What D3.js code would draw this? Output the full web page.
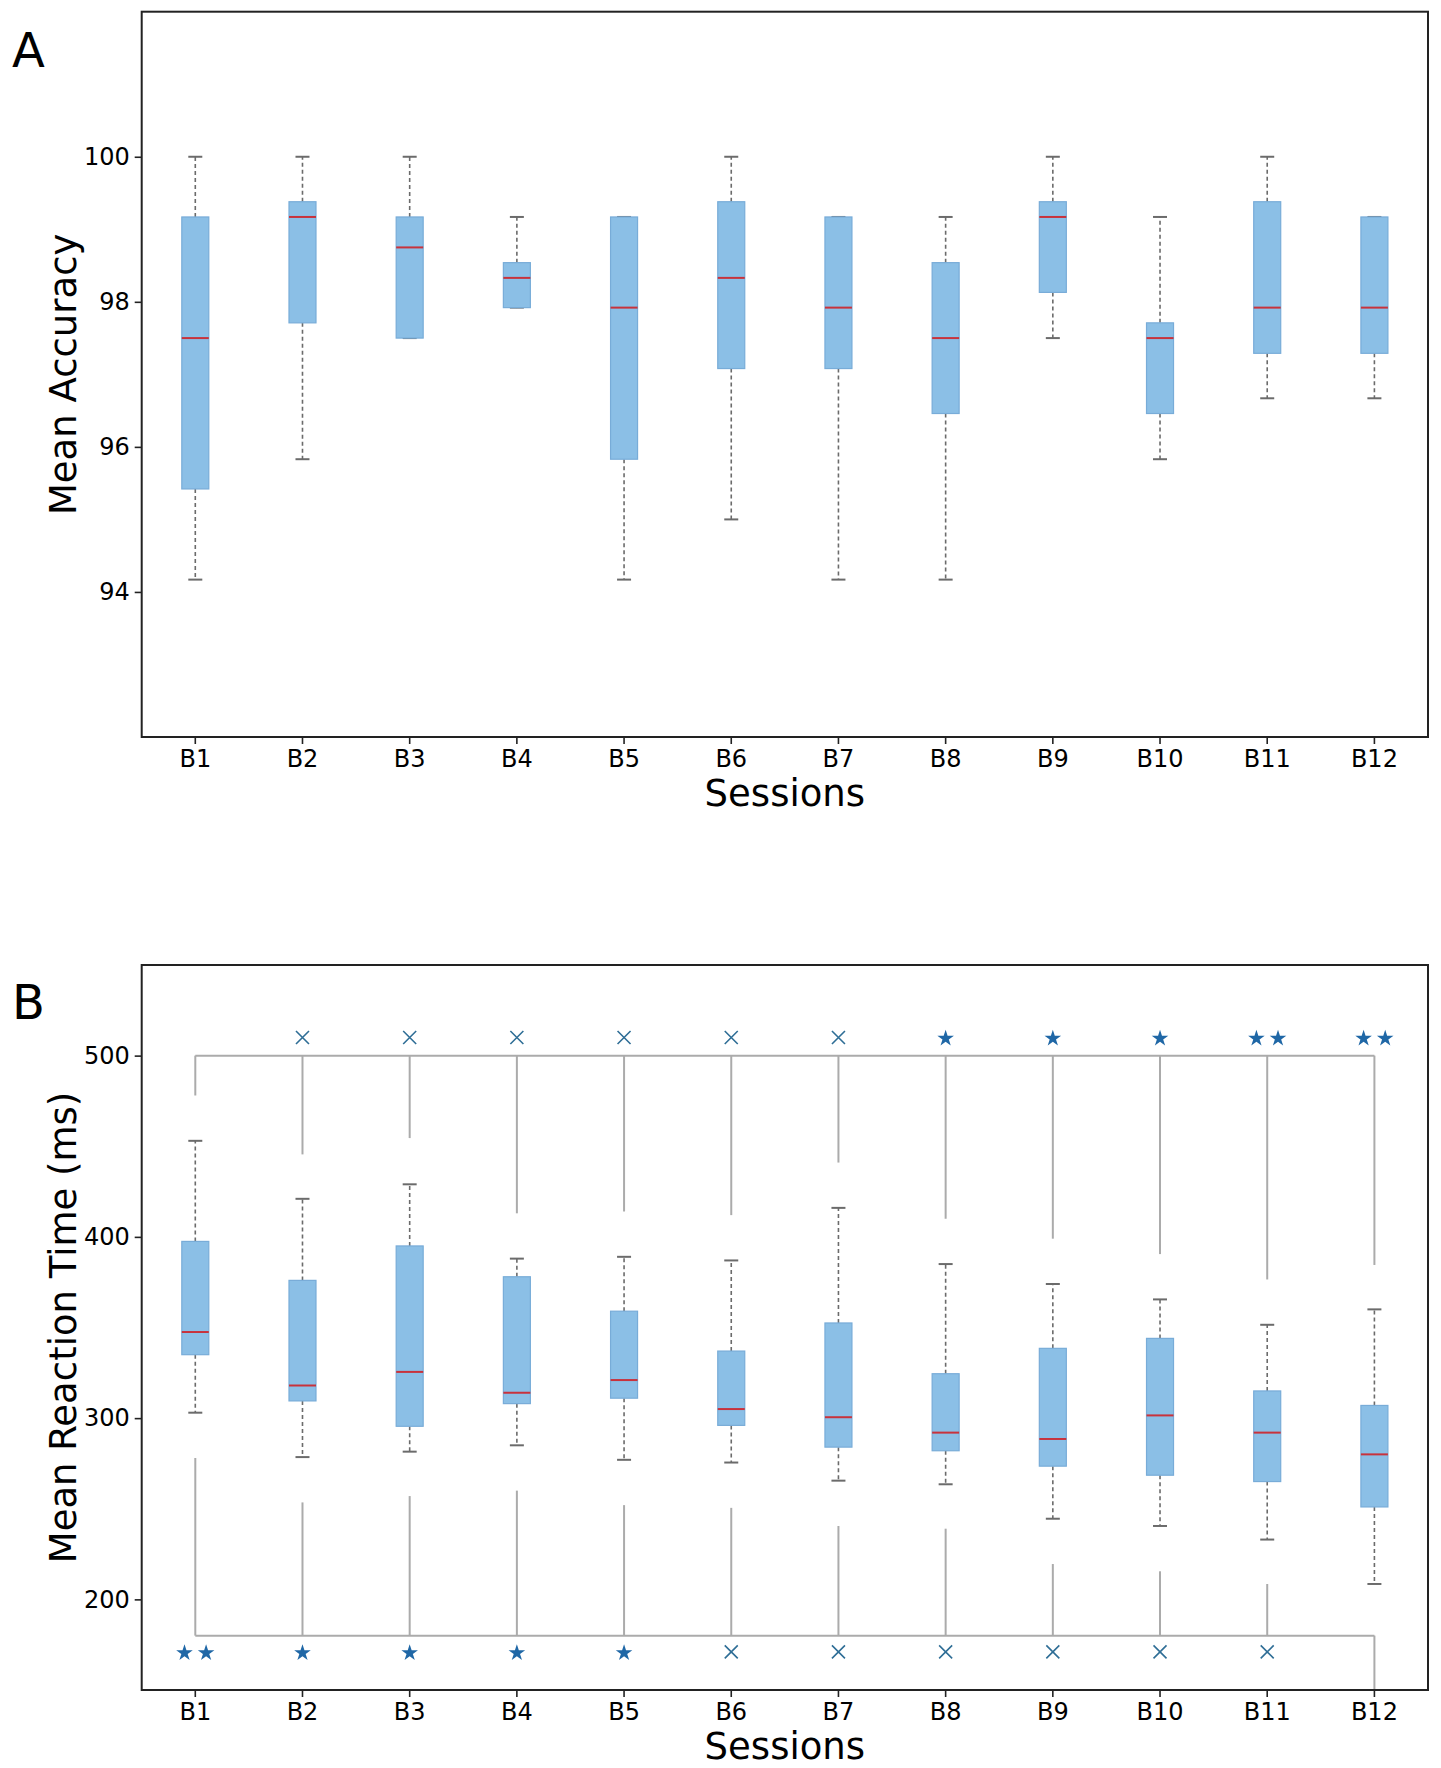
<!DOCTYPE html>
<html>
<head>
<meta charset="utf-8">
<script src="https://cdn.jsdelivr.net/npm/d3@7"></script>
<style>
  body { margin: 0; background: #fff; }
  text { font-family: "DejaVu Sans", sans-serif; fill: #000; }
</style>
</head>
<body>
<svg id="chart" width="1441" height="1768"></svg>
<script>
// ---------- data ----------
const sessions = ["B1","B2","B3","B4","B5","B6","B7","B8","B9","B10","B11","B12"];

// Panel A: Mean Accuracy
const accWhiskerLow  = [94.17, 95.83, 97.50, 97.92, 94.17, 95.00, 94.17, 94.17, 97.50, 95.83, 96.67, 96.67];
const accQ1          = [95.42, 97.71, 97.50, 97.92, 95.83, 97.08, 97.08, 96.46, 98.13, 96.46, 97.29, 97.29];
const accMedian      = [97.50, 99.17, 98.75, 98.33, 97.92, 98.33, 97.92, 97.50, 99.17, 97.50, 97.92, 97.92];
const accQ3          = [99.17, 99.38, 99.17, 98.54, 99.17, 99.38, 99.17, 98.54, 99.38, 97.71, 99.38, 99.17];
const accWhiskerHigh = [100.0, 100.0, 100.0, 99.17, 99.17, 100.0, 99.17, 99.17, 100.0, 99.17, 100.0, 99.17];
const accTicks = [94, 96, 98, 100];

// Panel B: Mean Reaction Time (ms)
const rtWhiskerLow  = [303, 278.5, 281.5, 285, 277, 275.5, 265.5, 263.5, 244.5, 240.5, 233, 208.5];
const rtQ1          = [335, 309.5, 295.5, 308, 311, 296, 284, 282, 273.5, 268.5, 265, 251];
const rtMedian      = [347.5, 318, 325.5, 314, 321, 305, 300.5, 292, 288.5, 301.5, 292, 280];
const rtQ3          = [397.5, 376, 395, 378, 359, 337, 352.5, 324.5, 338.5, 344, 315, 307];
const rtWhiskerHigh = [453, 421, 429, 388, 389, 387, 416, 385, 374, 365.5, 351.5, 360];
const rtTicks = [200, 300, 400, 500];

// significance brackets (comparison lines)
const upperBracketLevel = 500;
const upperBracketEnds  = [478, 445.5, 454.5, 413, 414, 412, 441, 410, 399, 390.5, 376.5, 384.5];
const upperMarks        = ["", "x", "x", "x", "x", "x", "x", "*", "*", "*", "**", "**"];
const upperMarkLevel    = 510;
const lowerBracketLevel = 180;
const lowerBracketEnds  = [278, 253.5, 257, 260, 252, 250.5, 240.5, 239, 219.5, 215.5, 208.5, 150];
const lowerMarks        = ["**", "*", "*", "*", "*", "x", "x", "x", "x", "x", "x", ""];
const lowerMarkLevel    = 171;

// ---------- drawing ----------
const svg = d3.select("#chart");
const left = 141.7, right = 1428;

const x = d3.scaleBand().domain(sessions).range([left, right]).paddingInner(0).paddingOuter(0);
const cx = s => x(s) + x.bandwidth() / 2;

const boxW = 27, capW = 14;
const boxFill = "#8bbfe6", boxStroke = "#78acd8", medColor = "#c8323c";
const whiskColor = "#6b6b6b", bracketColor = "#ababab", markColor = "#1f67a6", xColor = "#2f6e96";

function panel(cfg) {
  const g = svg.append("g");
  const y = d3.scaleLinear().domain(cfg.domain).range([cfg.bottom, cfg.top]);

  // brackets (behind)
  if (cfg.brackets) {
    const b = cfg.brackets;
    const bg = g.append("g").attr("stroke", bracketColor).attr("stroke-width", 2).attr("fill", "none");
    bg.append("line").attr("x1", cx(sessions[0])).attr("x2", cx(sessions[sessions.length-1]))
      .attr("y1", y(b.upperLevel)).attr("y2", y(b.upperLevel));
    bg.selectAll(".ud").data(sessions).join("line")
      .attr("x1", d => cx(d)).attr("x2", d => cx(d))
      .attr("y1", y(b.upperLevel)).attr("y2", (d, i) => y(b.upperEnds[i]));
    bg.append("line").attr("x1", cx(sessions[0])).attr("x2", cx(sessions[sessions.length-1]))
      .attr("y1", y(b.lowerLevel)).attr("y2", y(b.lowerLevel));
    bg.selectAll(".ld").data(sessions).join("line")
      .attr("x1", d => cx(d)).attr("x2", d => cx(d))
      .attr("y1", y(b.lowerLevel)).attr("y2", (d, i) => y(b.lowerEnds[i]));

    const drawMarks = (marks, level) => {
      sessions.forEach((s, i) => {
        const m = marks[i];
        const yy = y(level);
        if (m === "x") {
          const r = 6.5;
          g.append("path").attr("d", `M${cx(s)-r},${yy-r}L${cx(s)+r},${yy+r}M${cx(s)-r},${yy+r}L${cx(s)+r},${yy-r}`)
            .attr("stroke", xColor).attr("stroke-width", 1.6).attr("fill", "none");
        } else if (m === "*" || m === "**") {
          const offs = m === "*" ? [0] : [-10.8, 10.8];
          offs.forEach(o => {
            g.append("path").attr("d", d3.symbol(d3.symbolStar, 85)())
              .attr("transform", `translate(${cx(s)+o},${yy+1})`)
              .attr("fill", markColor);
          });
        }
      });
    };
    drawMarks(b.upperMarks, b.upperMarkLevel);
    drawMarks(b.lowerMarks, b.lowerMarkLevel);
  }

  // whiskers
  const wg = g.append("g");
  wg.selectAll(".wl").data(sessions).join("line")
    .attr("x1", d => cx(d)).attr("x2", d => cx(d))
    .attr("y1", (d, i) => y(cfg.q1[i])).attr("y2", (d, i) => y(cfg.lo[i]))
    .attr("stroke", whiskColor).attr("stroke-width", 1.6).attr("stroke-dasharray", "4,3");
  wg.selectAll(".wh").data(sessions).join("line")
    .attr("x1", d => cx(d)).attr("x2", d => cx(d))
    .attr("y1", (d, i) => y(cfg.q3[i])).attr("y2", (d, i) => y(cfg.hi[i]))
    .attr("stroke", whiskColor).attr("stroke-width", 1.6).attr("stroke-dasharray", "4,3");
  wg.selectAll(".cl").data(sessions).join("line")
    .attr("x1", d => cx(d) - capW/2).attr("x2", d => cx(d) + capW/2)
    .attr("y1", (d, i) => y(cfg.lo[i])).attr("y2", (d, i) => y(cfg.lo[i]))
    .attr("stroke", whiskColor).attr("stroke-width", 2);
  wg.selectAll(".ch").data(sessions).join("line")
    .attr("x1", d => cx(d) - capW/2).attr("x2", d => cx(d) + capW/2)
    .attr("y1", (d, i) => y(cfg.hi[i])).attr("y2", (d, i) => y(cfg.hi[i]))
    .attr("stroke", whiskColor).attr("stroke-width", 2);

  // boxes
  g.selectAll(".box").data(sessions).join("rect")
    .attr("x", d => cx(d) - boxW/2).attr("width", boxW)
    .attr("y", (d, i) => y(cfg.q3[i]))
    .attr("height", (d, i) => Math.max(1, y(cfg.q1[i]) - y(cfg.q3[i])))
    .attr("fill", boxFill).attr("stroke", boxStroke).attr("stroke-width", 1.2);
  g.selectAll(".med").data(sessions).join("line")
    .attr("x1", d => cx(d) - boxW/2).attr("x2", d => cx(d) + boxW/2)
    .attr("y1", (d, i) => y(cfg.med[i])).attr("y2", (d, i) => y(cfg.med[i]))
    .attr("stroke", medColor).attr("stroke-width", 2);

  // axes
  const ya = g.append("g").attr("transform", `translate(${left},0)`)
    .call(d3.axisLeft(y).tickValues(cfg.ticks).tickSize(7).tickPadding(5).tickFormat(d3.format("d")));
  ya.select(".domain").remove();
  ya.selectAll("line").attr("stroke", "#222").attr("stroke-width", 1.6);
  ya.selectAll("text").style("font-size", "24px").style("font-family", "DejaVu Sans, sans-serif").attr("fill", "#000");

  const xa = g.append("g").attr("transform", `translate(0,${cfg.bottom})`)
    .call(d3.axisBottom(x).tickSize(7).tickPadding(6));
  xa.select(".domain").remove();
  xa.selectAll("line").attr("stroke", "#222").attr("stroke-width", 1.6);
  xa.selectAll("text").style("font-size", "24px").style("font-family", "DejaVu Sans, sans-serif").attr("fill", "#000");

  // frame
  g.append("rect").attr("x", left).attr("y", cfg.top).attr("width", right - left).attr("height", cfg.bottom - cfg.top)
    .attr("fill", "none").attr("stroke", "#222").attr("stroke-width", 2);

  // labels
  g.append("text").attr("x", (left + right) / 2).attr("y", cfg.bottom + 69)
    .attr("text-anchor", "middle").style("font-size", "37px").text("Sessions");
  g.append("text").attr("transform", `translate(76,${(cfg.top + cfg.bottom) / 2}) rotate(-90)`)
    .attr("text-anchor", "middle").style("font-size", "37px").text(cfg.ylabel);
  g.append("text").attr("x", 12).attr("y", cfg.letterY).style("font-size", "48px").text(cfg.letter);
}

panel({
  top: 11.7, bottom: 737, domain: [92, 102], ticks: accTicks,
  lo: accWhiskerLow, q1: accQ1, med: accMedian, q3: accQ3, hi: accWhiskerHigh,
  ylabel: "Mean Accuracy", letter: "A", letterY: 67
});

panel({
  top: 965, bottom: 1690, domain: [150, 550], ticks: rtTicks,
  lo: rtWhiskerLow, q1: rtQ1, med: rtMedian, q3: rtQ3, hi: rtWhiskerHigh,
  ylabel: "Mean Reaction Time (ms)", letter: "B", letterY: 1019,
  brackets: {
    upperLevel: upperBracketLevel, upperEnds: upperBracketEnds, upperMarks: upperMarks, upperMarkLevel: upperMarkLevel,
    lowerLevel: lowerBracketLevel, lowerEnds: lowerBracketEnds, lowerMarks: lowerMarks, lowerMarkLevel: lowerMarkLevel
  }
});
</script>
</body>
</html>
